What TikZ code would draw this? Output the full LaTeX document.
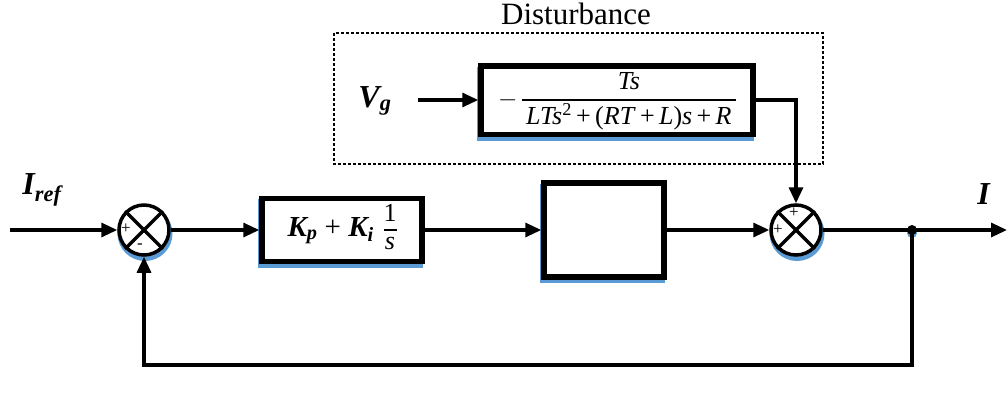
\documentclass[tikz,border=0pt]{standalone}
\usepackage{fontspec}
\setmainfont{Liberation Serif}
\usetikzlibrary{arrows.meta,shadows}
\definecolor{sblue}{HTML}{5B9BD5}
\newcommand{\bi}[1]{\textbf{\textit{#1}}}
\newcommand{\myfrac}[2]{{\arrayrulewidth=1.3pt\renewcommand{\arraystretch}{1.12}\begin{tabular}{@{\,}c@{\,}}#1\\\hline #2\end{tabular}}}
\begin{document}
\begin{tikzpicture}[x=1pt,y=-1pt,
  conn/.style={line width=3.2pt},
  arr/.style={conn,-{Triangle[length=16pt,width=14pt]}},
  blk/.style={draw=black,line width=5.5pt,fill=white,inner sep=0pt,
    general shadow={shadow yshift=-3.5pt,shadow xshift=-1.5pt,fill=sblue,draw=sblue,line width=5.5pt}},
  sumc/.style={circle,draw=black,line width=3.5pt,fill=white,minimum size=50pt,inner sep=0pt,
    general shadow={shadow yshift=-3.5pt,shadow xshift=1pt,draw=sblue,line width=5pt}},
  sgn/.style={font=\fontsize{17}{17}\selectfont,inner sep=0pt},
  dotn/.style={circle,fill=black,minimum size=10pt,inner sep=0pt,
    general shadow={shadow yshift=-3pt,fill=sblue}},
]
\useasboundingbox (0,0) rectangle (1008,394);
% dashed disturbance region
\draw[line width=1.4pt,dash pattern=on 3pt off 2pt] (334,33) rectangle (823,164);
\node[font=\fontsize{31}{34}\selectfont] (dist) at (576,14) {Disturbance};
% blocks
\node[blk,minimum width=272pt,minimum height=65pt] (tf) at (617,100)
  {\fontsize{26}{30}\selectfont $-$\,\myfrac{\textit{Ts}}{\textit{LTs}\textsuperscript{2}\,+\,(\textit{RT}\,+\,\textit{L})\textit{s}\,+\,\textit{R}}};
\node[blk,minimum width=160pt,minimum height=63pt] (pi) at (342,230)
  {\fontsize{29}{30}\selectfont \bi{K\textsubscript{p}} + \bi{K\textsubscript{i}}\,\,{\fontsize{26}{27}\selectfont\renewcommand{\arraystretch}{1.0}\arrayrulewidth=1.2pt\begin{tabular}{@{}c@{}}1\\\hline\textit{s}\end{tabular}}};
\node[blk,minimum width=120pt,minimum height=94pt] (emp) at (604,230) {};
% summing junctions
\node[sumc] (s1) at (144,230) {};
\draw[line width=3.5pt] (s1.north west) -- (s1.south east) (s1.north east) -- (s1.south west);
\node[sgn] (s1p) at (126,229) {+};
\node[sgn] (s1m) at (140,246) {-};
\node[sumc] (s2) at (796,230) {};
\draw[line width=3.5pt] (s2.north west) -- (s2.south east) (s2.north east) -- (s2.south west);
\node[sgn] (s2t) at (794,213) {+};
\node[sgn] (s2l) at (778,230) {+};
% labels
\node[font=\fontsize{32}{34}\selectfont] (vg) at (375,101) {\bi{V\textsubscript{g}}};
\node[font=\fontsize{32}{34}\selectfont] (iref) at (42,190) {\bi{I\textsubscript{ref}}};
\node[font=\fontsize{32}{34}\selectfont] (iout) at (984,194) {\bi{I}};
% coordinates
\coordinate (in) at (10,230);
\coordinate (out) at (1007,230);
\coordinate (vgin) at (418,100);
\coordinate (fb) at (144,365);
\node[dotn] (j) at (912,230) {};
% connectors
\draw[arr] (in) -- (s1.west);
\draw[arr] (s1.east) -- (pi.west);
\draw[arr] (pi.east) -- (emp.west);
\draw[arr] (emp.east) -- (s2.west);
\draw[arr] (s2.east) -- (out);
\draw[arr] (vgin) -- (tf.west);
\draw[arr] (tf.east) -| (s2.north);
\draw[arr] (j.center) |- (fb) -- (s1.south);
\end{tikzpicture}
\end{document}
